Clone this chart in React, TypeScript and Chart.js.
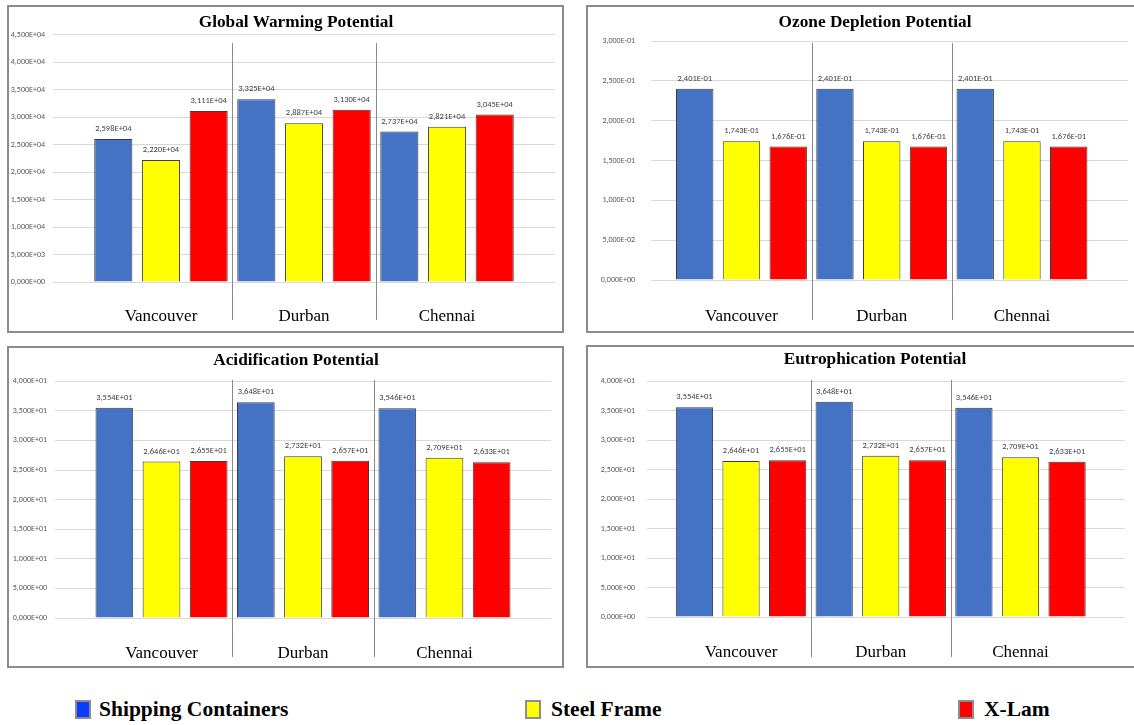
import React, { useEffect, useRef } from "react";
import { Chart, registerables } from "chart.js";

Chart.register(...registerables);

// ---------- DATA ----------
const cities = ["Vancouver", "Durban", "Chennai"];
const seriesNames = ["Shipping Containers", "Steel Frame", "X-Lam"];

const gwpShipping = [25980, 33250, 27370];
const gwpSteel = [22200, 28870, 28210];
const gwpXLam = [31110, 31300, 30450];

const odpShipping = [0.2401, 0.2401, 0.2401];
const odpSteel = [0.1743, 0.1743, 0.1743];
const odpXLam = [0.1676, 0.1676, 0.1676];

const apShipping = [35.54, 36.48, 35.46];
const apSteel = [26.46, 27.32, 27.09];
const apXLam = [26.55, 26.57, 26.33];

const epShipping = [35.54, 36.48, 35.46];
const epSteel = [26.46, 27.32, 27.09];
const epXLam = [26.55, 26.57, 26.33];

const gwpAxis = { max: 45000, step: 5000 };
const odpAxis = { max: 0.3, step: 0.05 };
const apAxis = { max: 40, step: 5 };
const epAxis = { max: 40, step: 5 };

// ---------- STYLE ----------
const barColors = ["#4472C4", "#FFFF00", "#FF0000"];
const legendColors = ["#0a3dff", "#ffff00", "#ff0000"];
const SERIF = '"Liberation Serif", "Times New Roman", serif';
const SMALL = 'Carlito, Calibri, "Liberation Sans", sans-serif';

function fmtSci(v: number): string {
  if (v === 0) return "0,000E+00";
  const [m, e] = v.toExponential(3).split("e");
  const ex = parseInt(e, 10);
  const sign = ex < 0 ? "-" : "+";
  return m.replace(".", ",") + "E" + sign + String(Math.abs(ex)).padStart(2, "0");
}

type PanelCfg = {
  title: string;
  series: number[][];
  axis: { max: number; step: number };
  left: number; top: number; w: number; h: number;
  boxW: number; boxH: number;
  titleX: number; titleY: number;
  padTop: number; padRight: number;
  yAxisW: number; yPad: number;
  xAxisH: number; xPad: number;
  xMin: number; xMax: number;
  sepTop: number; sepBottom: number;
};

const panels: PanelCfg[] = [
  {
    title: "Global Warming Potential",
    series: [gwpShipping, gwpSteel, gwpXLam], axis: gwpAxis,
    left: 8, top: 6, w: 555, h: 326, boxW: 557, boxH: 328,
    titleX: 296, titleY: 22,
    padTop: 28.5, padRight: 8, yAxisW: 45, yPad: 8, xAxisH: 50, xPad: 24,
    xMin: -0.755, xMax: 2.755, sepTop: 37, sepBottom: 314,
  },
  {
    title: "Ozone Depletion Potential",
    series: [odpShipping, odpSteel, odpXLam], axis: odpAxis,
    left: 587, top: 6, w: 547, h: 326, boxW: 560, boxH: 328,
    titleX: 875, titleY: 22,
    padTop: 35, padRight: 6, yAxisW: 64, yPad: 16, xAxisH: 52, xPad: 26,
    xMin: -0.645, xMax: 2.756, sepTop: 37, sepBottom: 314,
  },
  {
    title: "Acidification Potential",
    series: [apShipping, apSteel, apXLam], axis: apAxis,
    left: 8, top: 347, w: 555, h: 320, boxW: 557, boxH: 322,
    titleX: 296, titleY: 360,
    padTop: 34.3, padRight: 12, yAxisW: 47, yPad: 8, xAxisH: 49, xPad: 25,
    xMin: -0.753, xMax: 2.753, sepTop: 33, sepBottom: 310,
  },
  {
    title: "Eutrophication Potential",
    series: [epShipping, epSteel, epXLam], axis: epAxis,
    left: 587, top: 346, w: 547, h: 321, boxW: 560, boxH: 323,
    titleX: 875, titleY: 359,
    padTop: 35, padRight: 9, yAxisW: 60, yPad: 12, xAxisH: 50, xPad: 25,
    xMin: -0.673, xMax: 2.748, sepTop: 34, sepBottom: 311,
  },
];

const sepPlugin = {
  id: "seps",
  afterDraw(chart: any, _args: any, opts: any) {
    const xs = chart.scales.x;
    const ctx = chart.ctx;
    ctx.save();
    ctx.strokeStyle = "#8a8a8a";
    ctx.lineWidth = 1;
    for (let i = 0; i < cities.length - 1; i++) {
      const px = Math.round(xs.getPixelForValue(i + 0.5)) + 0.5;
      ctx.beginPath();
      ctx.moveTo(px, opts.top);
      ctx.lineTo(px, opts.bottom);
      ctx.stroke();
    }
    ctx.restore();
  },
};

const valueLabelPlugin = {
  id: "valueLabels",
  afterDatasetsDraw(chart: any) {
    const ctx = chart.ctx;
    ctx.save();
    ctx.font = `8.5px ${SMALL}`;
    ctx.fillStyle = "#404040";
    ctx.textAlign = "center";
    ctx.textBaseline = "middle";
    chart.data.datasets.forEach((ds: any, i: number) => {
      const meta = chart.getDatasetMeta(i);
      meta.data.forEach((el: any, j: number) => {
        ctx.fillText(fmtSci(ds.data[j].y), el.x, el.y - 10);
      });
    });
    ctx.restore();
  },
};

function Panel({ cfg }: { cfg: PanelCfg }) {
  const ref = useRef<HTMLCanvasElement>(null);
  useEffect(() => {
    const chart = new Chart(ref.current as HTMLCanvasElement, {
      type: "bar",
      data: {
        datasets: cfg.series.map((vals, si) => ({
          label: seriesNames[si],
          data: vals.map((v, i) => ({ x: i, y: v })),
          backgroundColor: barColors[si],
          borderColor: "#3a3a3a",
          borderWidth: 1,
          barPercentage: 0.8,
          categoryPercentage: 1,
        })),
      } as any,
      options: {
        animation: false,
        responsive: false,
        maintainAspectRatio: false,
        layout: { padding: { top: cfg.padTop, right: cfg.padRight, left: 0, bottom: 0 } },
        plugins: {
          legend: { display: false },
          tooltip: { enabled: false },
          title: { display: false },
          seps: { top: cfg.sepTop, bottom: cfg.sepBottom },
        } as any,
        scales: {
          x: {
            type: "linear",
            offset: false,
            bounds: "data",
            min: cfg.xMin,
            max: cfg.xMax,
            grid: { display: false, drawTicks: false, offset: false },
            border: { display: false },
            afterBuildTicks: (s: any) => {
              s.ticks = cities.map((_, i) => ({ value: i }));
            },
            afterFit: (s: any) => {
              s.height = cfg.xAxisH;
            },
            ticks: {
              callback: (v: any) => cities[v as number] ?? "",
              font: { family: SERIF, size: 17 },
              color: "#000000",
              padding: cfg.xPad,
              maxRotation: 0,
              autoSkip: false,
            },
          },
          y: {
            min: 0,
            max: cfg.axis.max,
            afterFit: (s: any) => {
              s.width = cfg.yAxisW;
            },
            grid: { color: "#d9d9d9", drawTicks: false },
            border: { display: false },
            ticks: {
              stepSize: cfg.axis.step,
              callback: (v: any) => fmtSci(Number(v)),
              font: { family: SMALL, size: 8 },
              color: "#595959",
              padding: cfg.yPad,
            },
          },
        } as any,
      },
      plugins: [sepPlugin, valueLabelPlugin],
    });
    return () => chart.destroy();
  }, [cfg]);

  return (
    <>
      <div
        style={{
          position: "absolute",
          left: cfg.left - 1,
          top: cfg.top - 1,
          width: cfg.boxW,
          height: cfg.boxH,
          border: "2px solid #8c8c8c",
          boxSizing: "border-box",
        }}
      />
      <canvas
        ref={ref}
        width={cfg.w}
        height={cfg.h}
        style={{ position: "absolute", left: cfg.left, top: cfg.top, width: cfg.w, height: cfg.h }}
      />
      <div
        style={{
          position: "absolute",
          left: cfg.titleX,
          top: cfg.titleY,
          transform: "translate(-50%, -50%)",
          fontFamily: SERIF,
          fontWeight: "bold",
          fontSize: 17.3,
          lineHeight: 1,
          whiteSpace: "nowrap",
          color: "#000",
        }}
      >
        {cfg.title}
      </div>
    </>
  );
}

const legendPos = [
  { sq: 75, text: 99 },
  { sq: 525, text: 551 },
  { sq: 958, text: 984 },
];

export default function App() {
  return (
    <div
      style={{
        position: "absolute",
        left: 0,
        top: 0,
        width: 1134,
        height: 725,
        background: "#ffffff",
        overflow: "hidden",
      }}
    >
      {panels.map((p, i) => (
        <Panel key={i} cfg={p} />
      ))}
      {seriesNames.map((name, i) => (
        <React.Fragment key={name}>
          <div
            style={{
              position: "absolute",
              left: legendPos[i].sq,
              top: 700,
              width: 16,
              height: 19,
              background: legendColors[i],
              border: "2px solid #8c8c8c",
              boxSizing: "border-box",
            }}
          />
          <div
            style={{
              position: "absolute",
              left: legendPos[i].text,
              top: 710,
              transform: "translateY(-50%)",
              fontFamily: SERIF,
              fontWeight: "bold",
              fontSize: 21.5,
              lineHeight: 1,
              whiteSpace: "nowrap",
              color: "#000",
            }}
          >
            {name}
          </div>
        </React.Fragment>
      ))}
    </div>
  );
}
